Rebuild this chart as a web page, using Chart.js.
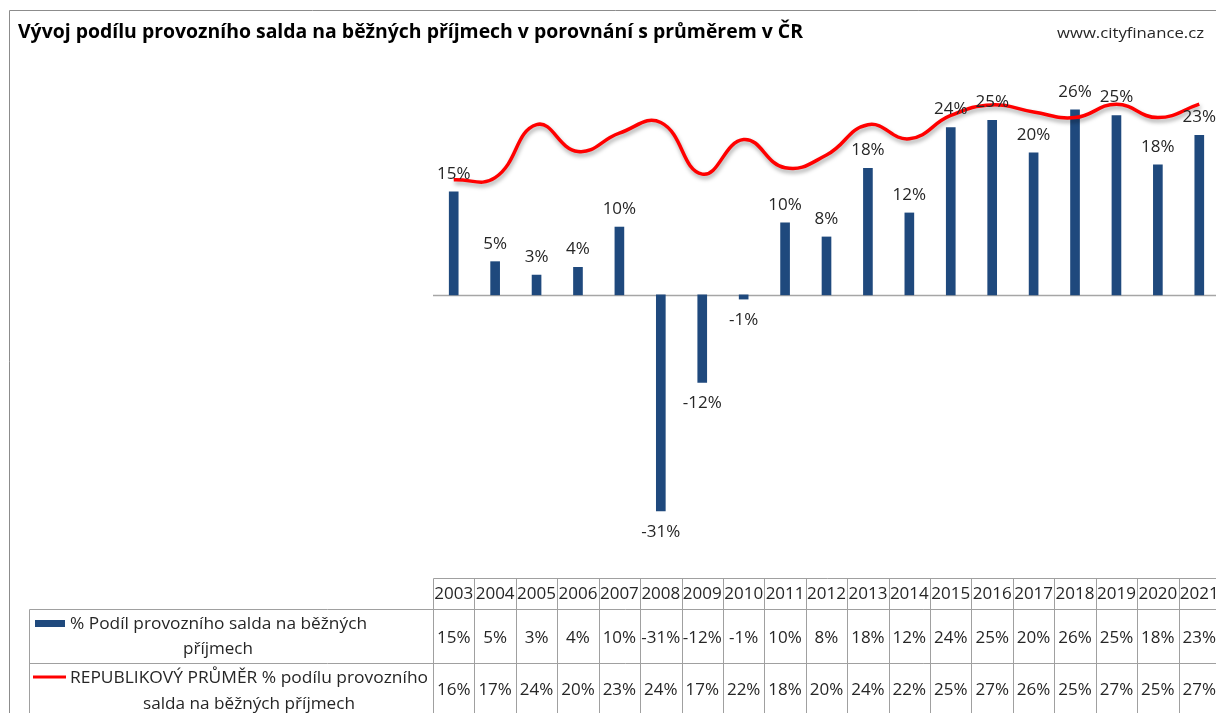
<!DOCTYPE html>
<html>
<head>
<meta charset="utf-8">
<script src="https://cdn.jsdelivr.net/npm/chart.js@4.4.1/dist/chart.umd.min.js"></script>
<style>
html, body { margin: 0; padding: 0; background: #fff; overflow: hidden; }
canvas { display: block; }
</style>
</head>
<body>
<canvas id="chart" width="1222" height="713"></canvas>
<script>
// data
const years = ['2003', '2004', '2005', '2006', '2007', '2008', '2009', '2010', '2011', '2012',
    '2013', '2014', '2015', '2016', '2017', '2018', '2019', '2020', '2021']
const podil = [14.6, 4.7, 2.8, 3.9, 9.6, -30.6, -12.4, -0.6, 10.2, 8.2,
    17.9, 11.6, 23.7, 24.7, 20.1, 26.2, 25.4, 18.4, 22.6]
const prumer = [16.3, 16.6, 24.1, 20.3, 22.9, 24.4, 17.1, 22.0, 18.0, 19.8,
    24.1, 22.1, 25.4, 26.9, 25.9, 25.1, 27.0, 25.1, 27.0]
const podilName = ['% Podíl provozního salda na běžných', 'příjmech']
const prumerName = ['REPUBLIKOVÝ PRŮMĚR % podílu provozního', 'salda na běžných příjmech']
const title = 'Vývoj podílu provozního salda na běžných příjmech v porovnání s průměrem v ČR'
const source = 'www.cityfinance.cz'
const yMin = -35
const yMax = 30

const blue = '#1F497D'
const red = '#FF0000'
const gridColor = '#a0a0a0'
const textColor = '#262626'
const font = '"Open Sans", sans-serif'

const pct = v => Math.round(v) + '%'

// draw text squeezed/stretched to a given width
function fitText(ctx, text, x, y, width) {
    const w = ctx.measureText(text).width
    ctx.save()
    ctx.translate(x, y)
    ctx.scale(width / w, 1)
    ctx.textAlign = 'left'
    ctx.fillText(text, 0, 0)
    ctx.restore()
}

const lineShadow = {
    id: 'lineShadow',
    beforeDatasetDraw(chart, args) {
        if (args.index !== 1) return
        const ctx = chart.ctx
        ctx.save()
        ctx.shadowColor = 'rgba(0,0,0,0.35)'
        ctx.shadowBlur = 4
        ctx.shadowOffsetX = 1
        ctx.shadowOffsetY = 3
    },
    afterDatasetDraw(chart, args) {
        if (args.index !== 1) return
        chart.ctx.restore()
    }
}

const zeroLine = {
    id: 'zeroLine',
    beforeDatasetsDraw(chart) {
        const ctx = chart.ctx
        const y0 = Math.round(chart.scales.y.getPixelForValue(0)) + 0.5
        ctx.save()
        ctx.strokeStyle = '#a6a6a6'
        ctx.lineWidth = 1.5
        ctx.beginPath()
        ctx.moveTo(chart.chartArea.left, y0)
        ctx.lineTo(chart.width, y0)
        ctx.stroke()
        ctx.restore()
    }
}

const barLabels = {
    id: 'barLabels',
    afterDatasetsDraw(chart) {
        const ctx = chart.ctx
        const meta = chart.getDatasetMeta(0)
        ctx.save()
        ctx.font = '17px ' + font
        ctx.fillStyle = textColor
        ctx.textAlign = 'center'
        ctx.textBaseline = 'middle'
        meta.data.forEach((bar, i) => {
            const v = podil[i]
            const y = v >= 0 ? bar.y - 18 : bar.y + 21
            ctx.fillText(pct(v), bar.x, y)
        })
        ctx.restore()
    }
}

const chrome = {
    id: 'chrome',
    afterDraw(chart) {
        const ctx = chart.ctx
        const x = chart.scales.x
        const area = chart.chartArea
        const colW = (area.right - area.left) / years.length
        const W = chart.width
        const H = chart.height
        ctx.save()

        // outer frame
        ctx.strokeStyle = '#8c8c8c'
        ctx.lineWidth = 1
        ctx.beginPath()
        ctx.moveTo(9.5, H)
        ctx.lineTo(9.5, 10.5)
        ctx.lineTo(W, 10.5)
        ctx.stroke()

        // title + source
        ctx.fillStyle = '#000'
        ctx.textBaseline = 'middle'
        ctx.font = 'bold 20px ' + font
        fitText(ctx, title, 18, 32, 785)
        ctx.fillStyle = textColor
        ctx.font = '15px ' + font
        fitText(ctx, source, 1057, 34, 147)

        // data table grid
        const top = 578.5, r1 = 609.5, r2 = 663.5
        const left = Math.round(area.left) + 0.5
        ctx.strokeStyle = gridColor
        ctx.lineWidth = 1
        ctx.beginPath()
        ctx.moveTo(left, top); ctx.lineTo(W, top)
        ctx.moveTo(29.5, r1); ctx.lineTo(W, r1)
        ctx.moveTo(29.5, r2); ctx.lineTo(W, r2)
        ctx.moveTo(29.5, r1); ctx.lineTo(29.5, H)
        for (let i = 0; i <= years.length; i++) {
            const bx = Math.round(area.left + i * colW) + 0.5
            ctx.moveTo(bx, top); ctx.lineTo(bx, H)
        }
        ctx.stroke()

        // table values
        ctx.fillStyle = textColor
        ctx.font = '17px ' + font
        ctx.textAlign = 'center'
        years.forEach((yr, i) => {
            const cx = x.getPixelForValue(i)
            ctx.fillText(yr, cx, 594)
            ctx.fillText(pct(podil[i]), cx, 638)
            ctx.fillText(pct(prumer[i]), cx, 690)
        })

        // legend keys in the table
        ctx.fillStyle = blue
        ctx.fillRect(35, 620, 30, 7)
        ctx.strokeStyle = red
        ctx.lineWidth = 3
        ctx.beginPath()
        ctx.moveTo(33, 677)
        ctx.lineTo(66, 677)
        ctx.stroke()

        ctx.fillStyle = textColor
        ctx.textAlign = 'left'
        fitText(ctx, podilName[0], 70, 624, 297)
        fitText(ctx, podilName[1], 183, 649, 70)
        fitText(ctx, prumerName[0], 70, 678, 358)
        fitText(ctx, prumerName[1], 143, 704, 212)

        ctx.restore()
    }
}

new Chart(document.getElementById('chart'), {
    type: 'bar',
    data: {
        labels: years,
        datasets: [{
            label: podilName.join(' '),
            data: podil,
            backgroundColor: blue,
            barThickness: 9,
            order: 2
        }, {
            type: 'line',
            label: prumerName.join(' '),
            data: prumer,
            borderColor: red,
            borderWidth: 3.5,
            pointRadius: 0,
            tension: 0.45,
            fill: false,
            order: 1
        }]
    },
    options: {
        responsive: false,
        animation: false,
        devicePixelRatio: 1,
        layout: {
            padding: { top: 83, bottom: 171, left: 433, right: 2 }
        },
        plugins: {
            legend: { display: false },
            tooltip: { enabled: false }
        },
        scales: {
            x: { display: false },
            y: { display: false, min: yMin, max: yMax }
        }
    },
    plugins: [zeroLine, lineShadow, barLabels, chrome]
})
</script>
</body>
</html>
